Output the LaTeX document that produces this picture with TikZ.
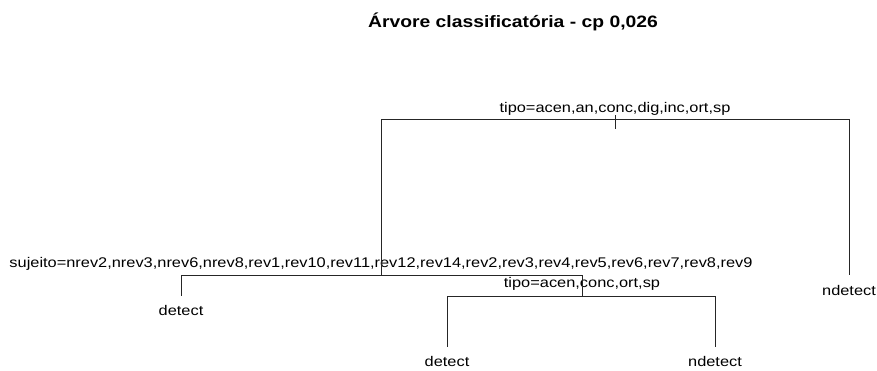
\documentclass[tikz,border=0pt]{standalone}
\usepackage{fontspec}
\setmainfont{Liberation Sans}[FakeStretch=1.17]

\begin{document}
\begin{tikzpicture}[x=1pt,y=-1pt]
\useasboundingbox (0,0) rectangle (877,370);
\node [anchor=base,font=\bfseries\fontsize{16.5}{18}\selectfont] (titulo) at (513,27)
    {Árvore classificatória - cp 0,026};
% pontos da arvore
\coordinate (n1) at (615,119);
\coordinate (n2) at (381,275);
\coordinate (n3) at (849,275);
\coordinate (n4) at (181,296);
\coordinate (n5) at (582,296);
\coordinate (n10) at (447,347);
\coordinate (n11) at (715,347);
\begin{scope}[every node/.style={anchor=base,inner sep=0pt,font=\fontsize{14}{16}\selectfont}]
    \node (s1) at (615,112) {tipo=acen,an,conc,dig,inc,ort,sp};
    \node (s2) at (381,267) {sujeito=nrev2,nrev3,nrev6,nrev8,rev1,rev10,rev11,rev12,rev14,rev2,rev3,rev4,rev5,rev6,rev7,rev8,rev9};
    \node (s5) at (582,287) {tipo=acen,conc,ort,sp};
    \node (f3) at (849,295) {ndetect};
    \node (f4) at (181,315) {detect};
    \node (f10) at (447,366) {detect};
    \node (f11) at (715,366) {ndetect};
\end{scope}
\begin{scope}[every path/.style={draw=black!85,line width=0.8pt}]
    \path ([yshift=4pt]n1) -- ([yshift=-10pt]n1);
    \path (n1) -| (n2);
    \path (n1) -| (n3);
    \path (n2) -| (n4);
    \path (n2) -| (n5);
    \path (n5) -| (n10);
    \path (n5) -| (n11);
\end{scope}
\end{tikzpicture}
\end{document}
